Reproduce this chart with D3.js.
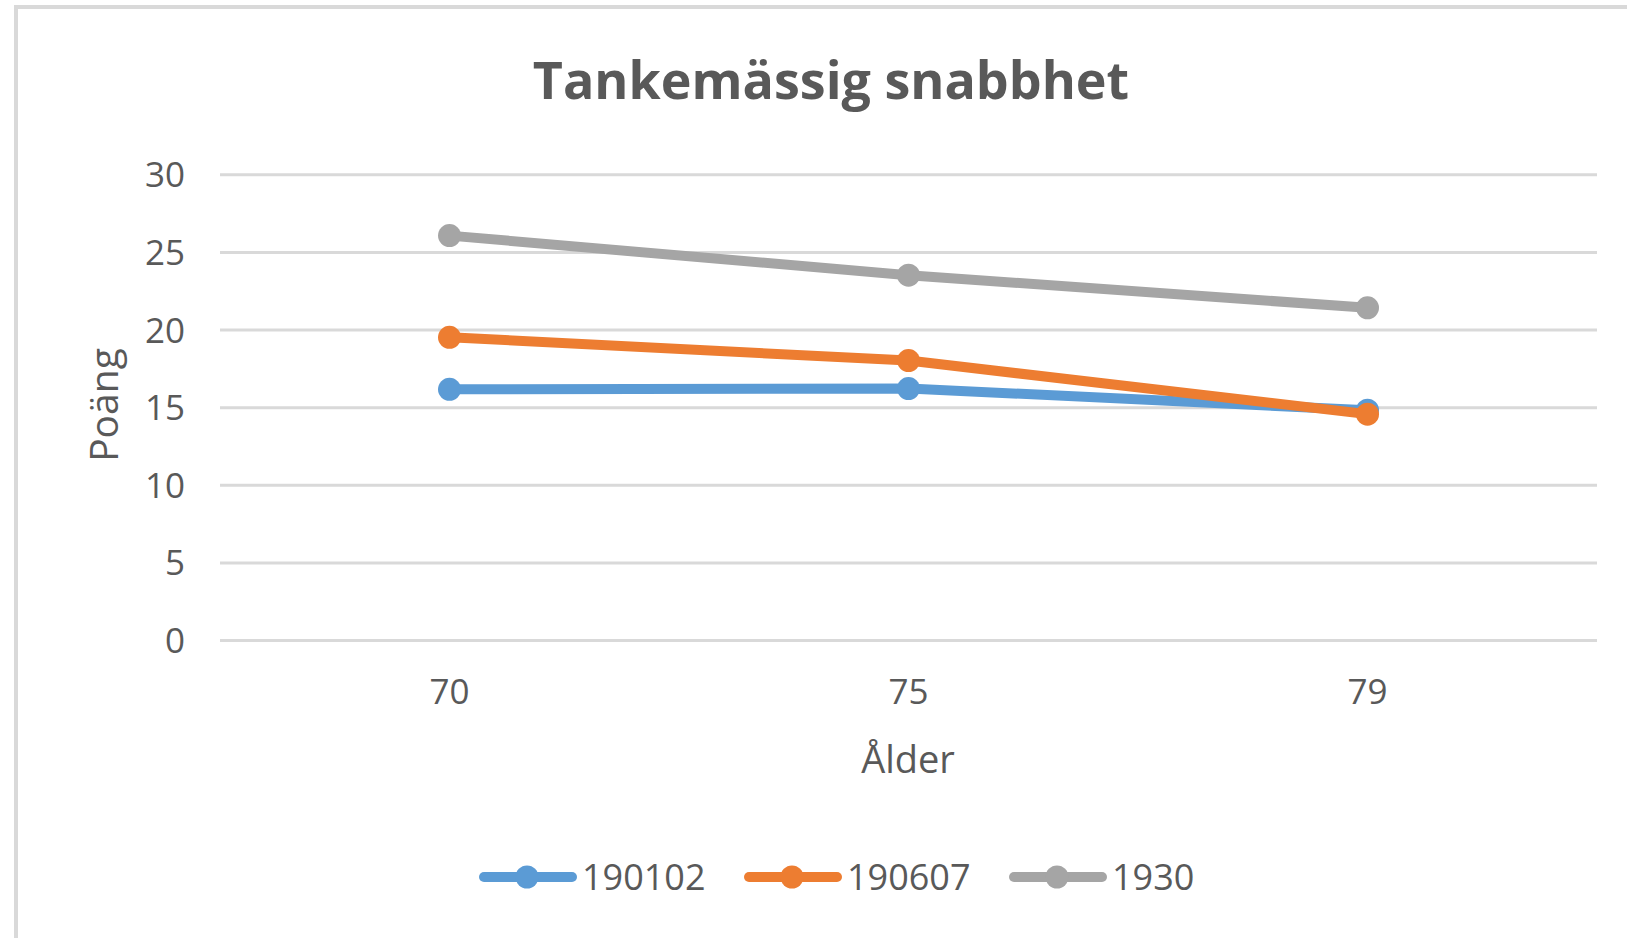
<!DOCTYPE html>
<html><head><meta charset="utf-8">
<script src="https://cdn.jsdelivr.net/npm/d3@7"></script>
<style>html,body{margin:0;padding:0;background:#fff;overflow:hidden}</style>
</head><body>
<svg id="c" width="1627" height="938"></svg>
<script>
const title = "Tankemässig snabbhet";
const categories = ["70", "75", "79"];
const seriesNames = ["190102", "190607", "1930"];
const values190102 = [16.15, 16.2, 14.8];
const values190607 = [19.5, 18.0, 14.55];
const values1930 = [26.05, 23.5, 21.4];
const yTicks = [0, 5, 10, 15, 20, 25, 30];
const xTitle = "Ålder";
const yTitle = "Poäng";
const colors = ["#5b9bd5", "#ed7d31", "#a5a5a5"];

(function () {
const series = [values190102, values190607, values1930].map((v, i) => ({name: seriesNames[i], values: v, color: colors[i]}));

const svg = d3.select("#c");
const font = "'Open Sans', sans-serif";
const txt = "#595959";

// chart border
svg.append("rect").attr("x", 16).attr("y", 7).attr("width", 1700).attr("height", 1000)
  .attr("fill", "#fff").attr("stroke", "#d9d9d9").attr("stroke-width", 4);

const pl = 220, pr = 1597, pt = 174.3, pb = 640;
const x = d3.scaleBand().domain(categories).range([pl, pr]);
const y = d3.scaleLinear().domain([0, 30]).range([pb, pt]);

// gridlines
const yAxis = d3.axisLeft(y).tickValues(yTicks).tickSize(-(pr - pl)).tickPadding(35);
const gy = svg.append("g").attr("transform", `translate(${pl},0)`).call(yAxis);
gy.select(".domain").remove();
gy.selectAll(".tick line").attr("stroke", "#d9d9d9").attr("stroke-width", 3);
gy.selectAll(".tick text").attr("fill", txt).style("font-family", font).style("font-size", "35px").attr("dy", "0.36em");

const xAxis = d3.axisBottom(x).tickSize(0).tickPadding(0);
const gx = svg.append("g").attr("transform", `translate(0,${pb})`).call(xAxis);
gx.select(".domain").remove();
gx.selectAll(".tick text").attr("fill", txt).style("font-family", font).style("font-size", "35px").attr("dy", 0).attr("y", 64);

// titles
svg.append("text").attr("x", 831).attr("y", 99).attr("text-anchor", "middle")
  .attr("fill", txt).style("font-family", font).style("font-weight", "bold").style("font-size", "52px").text(title);
svg.append("text").attr("x", 908).attr("y", 773).attr("text-anchor", "middle")
  .attr("fill", txt).style("font-family", font).style("font-size", "38px").text(xTitle);
svg.append("text").attr("transform", "translate(118,405) rotate(-90)").attr("text-anchor", "middle")
  .attr("fill", txt).style("font-family", font).style("font-size", "39px").text(yTitle);

// lines
const cx = c => x(c) + x.bandwidth() / 2;
const line = d3.line().x((d, i) => cx(categories[i])).y(d => y(d));
series.forEach(s => {
  svg.append("path").attr("d", line(s.values)).attr("fill", "none").attr("stroke", s.color)
    .attr("stroke-width", 10).attr("stroke-linejoin", "round").attr("stroke-linecap", "round");
  svg.selectAll(null).data(s.values).enter().append("circle")
    .attr("cx", (d, i) => cx(categories[i])).attr("cy", d => y(d)).attr("r", 11.5).attr("fill", s.color);
});

// legend
const legendX = [480, 745, 1010];
const ly = 877;
series.forEach((s, i) => {
  const g = svg.append("g").attr("transform", `translate(${legendX[i]},${ly})`);
  g.append("line").attr("x1", 4).attr("x2", 92).attr("y1", 0).attr("y2", 0).attr("stroke", s.color)
    .attr("stroke-width", 10).attr("stroke-linecap", "round");
  g.append("circle").attr("cx", 47).attr("cy", 0).attr("r", 11.5).attr("fill", s.color);
  g.append("text").attr("x", 102).attr("y", 0).attr("dy", "0.36em").attr("fill", txt)
    .style("font-family", font).style("font-size", "36px").text(s.name);
});
})();
</script>
</body></html>
